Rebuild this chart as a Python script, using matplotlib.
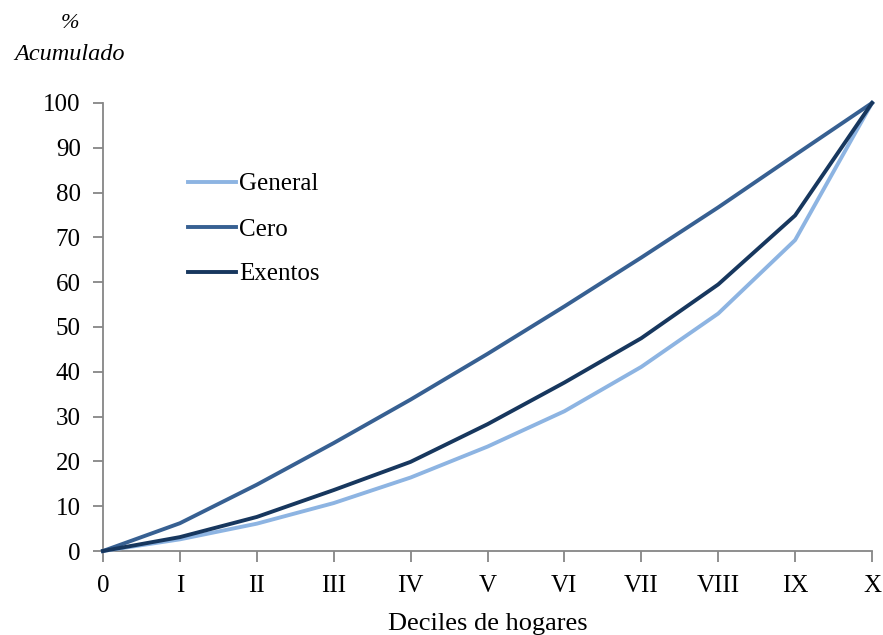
import matplotlib
matplotlib.use("Agg")
import matplotlib.pyplot as plt

deciles = ["0", "I", "II", "III", "IV", "V", "VI", "VII", "VIII", "IX", "X"]
general = [0, 2.6, 6.1, 10.7, 16.4, 23.3, 31.2, 41.1, 53.0, 69.4, 100]
cero = [0, 6.2, 14.8, 24.1, 33.8, 44.0, 54.6, 65.5, 76.7, 88.4, 100]
exentos = [0, 3.1, 7.6, 13.6, 19.9, 28.3, 37.6, 47.5, 59.5, 74.9, 100]
yticks = [0, 10, 20, 30, 40, 50, 60, 70, 80, 90, 100]

plt.rcParams['font.family'] = ['Liberation Serif', 'DejaVu Serif']

fig = plt.figure(figsize=(8.83, 6.35), dpi=100)
ax = fig.add_axes([103/883, 1-551/635, (872-103)/883, (551-103)/635])

x = list(range(len(deciles)))
lw = 2.8
ax.plot(x, general, color="#8DB4E2", lw=lw, label="General", clip_on=False, zorder=3)
ax.plot(x, cero, color="#376092", lw=lw, label="Cero", clip_on=False, zorder=3)
ax.plot(x, exentos, color="#17375E", lw=lw, label="Exentos", clip_on=False, zorder=4)

ax.set_xlim(0, 10)
ax.set_ylim(0, 100)
ax.set_xticks(x)
ax.set_xticklabels(deciles)
ax.set_yticks(yticks)

for s in ["top", "right"]:
    ax.spines[s].set_visible(False)
for s in ["left", "bottom"]:
    ax.spines[s].set_color("#868686")
    ax.spines[s].set_linewidth(1.3)

ax.tick_params(axis="x", direction="out", length=8, width=1.3, color="#868686",
               labelsize=18, pad=9)
ax.tick_params(axis="y", direction="out", length=7, width=1.3, color="#868686",
               labelsize=18, pad=9)

ax.set_xlabel("Deciles de hogares", fontsize=19, labelpad=12)

fig.text(70/883, 1-23/635, "%", fontsize=16, style="italic", ha="center", va="center")
fig.text(70/883, 1-55/635, "Acumulado", fontsize=17.5, style="italic", ha="center", va="center")

leg = ax.legend(loc="upper left", bbox_to_anchor=(75/769, 1-60/448),
                frameon=False, fontsize=18, handlelength=1.9, handletextpad=0.15,
                labelspacing=0.9, borderaxespad=0)

fig.savefig("out.png", dpi=100)
